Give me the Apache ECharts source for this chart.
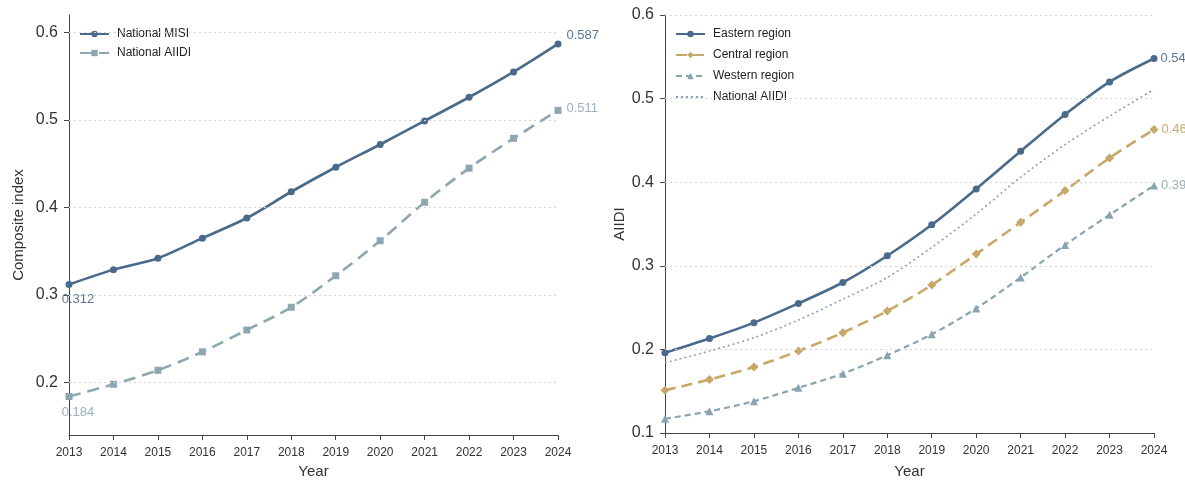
<!DOCTYPE html>
<html><head><meta charset="utf-8">
<script src="https://cdn.jsdelivr.net/npm/echarts@6/dist/echarts.min.js"></script>
<style>html,body{margin:0;padding:0;background:#fff}#c{width:1185px;height:484px}</style>
</head><body><div id="c"></div>
<script>
const years = ['2013','2014','2015','2016','2017','2018','2019','2020','2021','2022','2023','2024'];
const nationalMISI = [0.312,0.329,0.342,0.365,0.388,0.418,0.446,0.472,0.499,0.526,0.555,0.587];
const nationalAIIDI = [0.184,0.198,0.214,0.235,0.260,0.286,0.322,0.362,0.406,0.445,0.479,0.511];
const eastern = [0.196,0.213,0.232,0.255,0.280,0.312,0.349,0.392,0.437,0.481,0.520,0.548];
const central = [0.151,0.164,0.179,0.198,0.220,0.246,0.277,0.314,0.352,0.390,0.429,0.463];
const western = [0.117,0.126,0.138,0.154,0.171,0.193,0.218,0.249,0.286,0.325,0.361,0.396];
const leftTicks = [0.2,0.3,0.4,0.5,0.6];
const rightTicks = [0.1,0.2,0.3,0.4,0.5,0.6];

const FONT = 'Liberation Sans, Arial, sans-serif';
const C = {misi:'#4a6a8c', aiidi:'#8ea6b0', east:'#4a6a8c', central:'#c8a868', west:'#88a4b0', nat:'#8b9fba'};
const LC = {misi:'#5a7699', aiidi:'#9bb1bc', east:'#5a7699', central:'#c9ab70', west:'#9ab0bb'};

function withLabels(vals, color, first, last){
  return vals.map((v,i)=>{
    if(i===vals.length-1 && last) return {value:v, label:{show:true, position:'right', distance:last.distance||4, offset:last.offset||[0,0], color, fontSize:13, fontFamily:FONT, formatter:()=>v.toFixed(3)}};
    if(i===0 && first) return {value:v, label:{show:true, position:'bottom', distance:4, offset:first.offset||[0,0], color, fontSize:13, fontFamily:FONT, formatter:()=>v.toFixed(3)}};
    return v;
  });
}
function gridLines(ticks){
  return {silent:true, symbol:'none', label:{show:false}, animation:false,
    lineStyle:{color:'#d6d6d6', type:[2,3], width:1},
    data: ticks.map(t=>({yAxis:t}))};
}
const axisCommon = {
  axisLine:{show:true, lineStyle:{color:'#444', width:1}},
  axisTick:{show:true, length:5, lineStyle:{color:'#444'}},
  nameTextStyle:{fontFamily:FONT, fontSize:15, color:'#333'},
};
const xLabel = {fontSize:12, color:'#333', margin:12, interval:0};
const yLabel = {fontSize:16, color:'#333', margin:11, formatter:v=>String(+v.toFixed(1))};
const legendText = {fontFamily:FONT, fontSize:12, color:'#222', padding:[0,0,0,3]};
const chart = echarts.init(document.getElementById('c'), null, {renderer:'canvas'});
chart.setOption({
  animation:false,
  textStyle:{fontFamily:FONT},
  grid:[
    {left:69, top:15, width:489, bottom:49, containLabel:false},
    {left:665, top:15, width:489, bottom:49, containLabel:false}
  ],
  legend:[
    {left:74, top:23, orient:'vertical', itemGap:7, itemWidth:29, itemHeight:8,
     textStyle:legendText, data:['National MISI','National AIIDI']},
    {left:670, top:23, orient:'vertical', itemGap:9, itemWidth:29, itemHeight:8,
     textStyle:legendText, data:['Eastern region','Central region','Western region',
       {name:'National AIIDI ', itemStyle:{color:'rgba(0,0,0,0)', borderColor:'rgba(0,0,0,0)', borderWidth:0}}]}
  ],
  xAxis:[
    Object.assign({}, axisCommon, {type:'category', gridIndex:0, data:years, boundaryGap:false,
      name:'Year', nameLocation:'middle', nameGap:27,
      axisTick:{show:true, length:5, alignWithLabel:true, lineStyle:{color:'#444'}},
      axisLabel:xLabel, splitLine:{show:false}}),
    Object.assign({}, axisCommon, {type:'category', gridIndex:1, data:years, boundaryGap:false,
      name:'Year', nameLocation:'middle', nameGap:31,
      axisTick:{show:true, length:5, alignWithLabel:true, lineStyle:{color:'#444'}},
      axisLabel:xLabel, splitLine:{show:false}})
  ],
  yAxis:[
    Object.assign({}, axisCommon, {type:'value', gridIndex:0, min:0.14, max:0.62,
      name:'Composite index', nameLocation:'middle', nameGap:43, nameRotate:90,
      axisTick:{show:true, length:5, customValues:leftTicks, lineStyle:{color:'#444'}},
      axisLabel:Object.assign({customValues:leftTicks}, yLabel),
      splitLine:{show:false}}),
    Object.assign({}, axisCommon, {type:'value', gridIndex:1, min:0.1, max:0.6, interval:0.1,
      name:'AIIDI', nameLocation:'middle', nameGap:37, nameRotate:90,
      axisLabel:yLabel, splitLine:{show:false}})
  ],
  series:[
    {name:'National MISI', type:'line', xAxisIndex:0, yAxisIndex:0, smooth:0.3,
     symbol:'circle', symbolSize:7, itemStyle:{color:C.misi}, lineStyle:{color:C.misi, width:2.6},
     data:withLabels(nationalMISI, LC.misi, {offset:[9,1]}, {offset:[0,-8], distance:5}),
     markLine:gridLines(leftTicks), z:3},
    {name:'National AIIDI', type:'line', xAxisIndex:0, yAxisIndex:0, smooth:0.3,
     symbol:'rect', symbolSize:7, itemStyle:{color:C.aiidi}, lineStyle:{color:C.aiidi, width:2.6, type:[12,7]},
     data:withLabels(nationalAIIDI, LC.aiidi, {offset:[9,2]}, {offset:[0,-2], distance:5}), z:2},
    {name:'Eastern region', type:'line', xAxisIndex:1, yAxisIndex:1, smooth:0.3,
     symbol:'circle', symbolSize:7, itemStyle:{color:C.east}, lineStyle:{color:C.east, width:2.6},
     data:withLabels(eastern, LC.east, null, {offset:[0,0], distance:3}),
     markLine:gridLines(rightTicks.slice(1)), z:3},
    {name:'Central region', type:'line', xAxisIndex:1, yAxisIndex:1, smooth:0.3,
     symbol:'diamond', symbolSize:9, itemStyle:{color:C.central}, lineStyle:{color:C.central, width:2.6, type:[11,6]},
     data:withLabels(central, LC.central, null, {offset:[0,0], distance:3}), z:2},
    {name:'Western region', type:'line', xAxisIndex:1, yAxisIndex:1, smooth:0.3,
     symbol:'triangle', symbolSize:8, itemStyle:{color:C.west}, lineStyle:{color:C.west, width:2.2, type:[6,4]},
     data:withLabels(western, LC.west, null, {offset:[0,0], distance:3}), z:2},
    {name:'National AIIDI ', type:'line', xAxisIndex:1, yAxisIndex:1, smooth:0.3,
     symbol:'none', showSymbol:false, itemStyle:{color:C.nat}, lineStyle:{color:C.nat, width:1.6, type:[2,3]},
     data:nationalAIIDI, z:1}
  ]
});
</script></body></html>
